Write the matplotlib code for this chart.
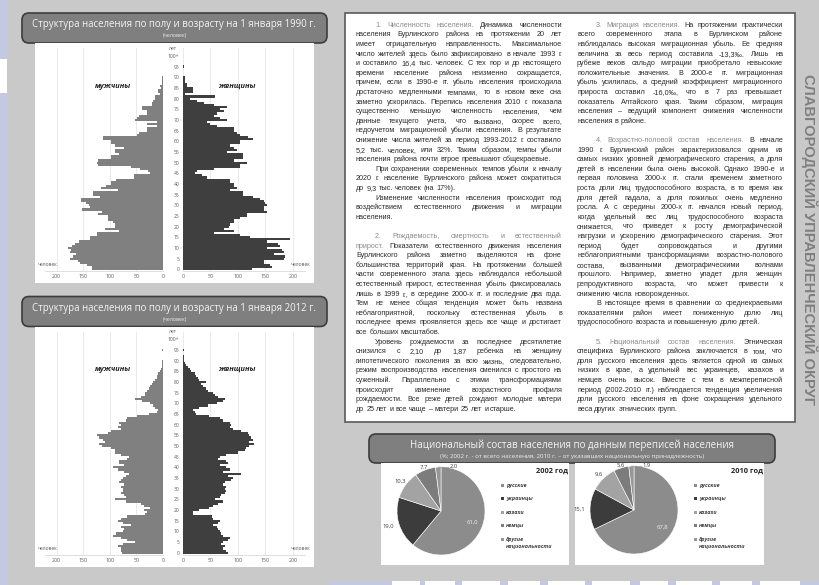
import numpy as np
import matplotlib
matplotlib.use("Agg")
import matplotlib.pyplot as plt
from matplotlib.patches import FancyBboxPatch, Rectangle

plt.rcParams['font.family'] = ['Open Sans', 'DejaVu Sans']
BODY_FONT = ['Liberation Sans', 'DejaVu Sans']

W, H = 819, 585

# --- data -------------------------------------------------------------
ages = np.arange(0, 101)
age_ticks = list(range(0, 101, 5))
age_labels = [str(a) for a in range(0, 100, 5)] + ['100+']
value_ticks = [0, 50, 100, 150, 200]

male_1990 = [134, 134, 143, 157, 160, 175, 170, 163, 175, 174,
             178, 172, 165, 158, 137, 137, 125, 125, 82, 110,
             91, 91, 95, 104, 104, 104, 122, 115, 152, 137,
             140, 145, 155, 155, 119, 131, 131, 85, 116, 107,
             98, 98, 88, 55, 55, 25, 28, 43, 61, 122,
             125, 122, 98, 98, 82, 91, 91, 73, 91, 98,
             98, 113, 113, 49, 45, 30, 30, 12, 30, 12,
             52, 49, 45, 30, 30, 40, 40, 21, 21, 18,
             15, 15, 6, 9, 9, 3, 5, 2, 1, 1,
             1, 0, 0, 0, 0, 0, 0, 0, 0, 0,
             0]
female_1990 = [125, 162, 159, 147, 147, 183, 186, 165, 183, 180,
               153, 177, 172, 153, 195, 122, 104, 56, 92, 74,
               83, 86, 92, 92, 104, 116, 116, 153, 147, 147,
               153, 150, 147, 141, 128, 110, 110, 86, 98, 92,
               92, 86, 86, 44, 35, 22, 25, 56, 104, 104,
               116, 92, 110, 110, 110, 80, 98, 92, 86, 104,
               104, 128, 119, 104, 98, 92, 92, 62, 50, 44,
               80, 68, 56, 62, 74, 68, 80, 56, 38, 25,
               13, 58, 4, 19, 19, 19, 7, 7, 4, 4,
               4, 0, 0, 0, 0, 2, 0, 0, 0, 0,
               0]
male_2012 = [77, 79, 79, 85, 76, 52, 67, 79, 94, 88,
             76, 73, 79, 61, 76, 85, 79, 67, 33, 30,
             36, 24, 36, 42, 70, 91, 70, 73, 79, 76,
             76, 79, 73, 82, 79, 76, 70, 64, 73, 85,
             94, 73, 82, 82, 67, 64, 79, 91, 91, 97,
             115, 121, 109, 112, 121, 125, 103, 97, 79, 85,
             79, 82, 70, 67, 48, 27, 12, 9, 15, 18,
             24, 39, 52, 42, 33, 33, 30, 27, 24, 21,
             18, 15, 12, 11, 9, 6, 3, 1, 1, 1,
             1, 0, 0, 0, 0, 1, 0, 0, 0, 0,
             0]
female_2012 = [82, 79, 73, 76, 70, 73, 82, 85, 73, 70,
               67, 64, 61, 55, 64, 67, 55, 52, 18, 18,
               30, 48, 55, 64, 73, 58, 67, 70, 76, 79,
               76, 79, 73, 76, 88, 91, 82, 106, 73, 85,
               79, 67, 82, 79, 64, 67, 79, 100, 112, 115,
               121, 130, 121, 127, 124, 121, 118, 106, 91, 85,
               88, 85, 73, 67, 48, 24, 21, 18, 30, 45,
               61, 73, 76, 64, 58, 55, 45, 42, 36, 33,
               42, 30, 27, 24, 21, 15, 12, 9, 6, 3,
               2, 1, 1, 0, 0, 1, 0, 0, 0, 0,
               0]

nations = ['русские', 'украинцы', 'казахи', 'немцы', 'другие\nнациональности']
shares_2002 = [61.0, 19.0, 10.3, 7.7, 2.0]
shares_2010 = [67.8, 15.1, 9.6, 5.6, 1.9]
nation_colors = ['#8c8c8c', '#3c3c3c', '#a3a3a3', '#7c7c7c', '#969696']

# text of the two columns: '>' indent, '¶' paragraph end, {..} heading
left_col = [
    ">{1. Численность населения.} Динамика численности",
    "населения Бурлинского района на протяжении 20 лет",
    "имеет отрицательную направленность. Максимальное",
    "число жителей здесь было зафиксировано в начале 1993 г.",
    "и составило 16,4 тыс. человек. С тех пор и до настоящего",
    "времени население района неизменно сокращается,",
    "причем, если в 1990-е гг. убыль населения происходила",
    "достаточно медленными темпами, то в новом веке она",
    "заметно ускорилась. Перепись населения 2010 г. показала",
    "существенно меньшую численность населения, чем",
    "данные текущего учета, что вызвано, скорее всего,",
    "недоучетом миграционной убыли населения. В результате",
    "снижение числа жителей за период 1993-2012 г. составило",
    "5,2 тыс. человек, или 32%. Таким образом, темпы убыли",
    "населения района почти втрое превышают общекраевые.¶",
    ">При сохранении современных темпов убыли к началу",
    "2020 г. население Бурлинского района может сократиться",
    "до 9,3 тыс. человек (на 17%).¶",
    ">Изменение численности населения происходит под",
    "воздействием естественного движения и миграции",
    "населения.¶",
    "",
    ">{2. Рождаемость, смертность и естественный}",
    "{прирост.} Показатели естественного движения населения",
    "Бурлинского района заметно выделяются на фоне",
    "большинства территорий края. На протяжении большей",
    "части современного этапа здесь наблюдался небольшой",
    "естественный прирост, естественная убыль фиксировалась",
    "лишь в 1999 г., в середине 2000-х гг. и последние два года.",
    "Тем не менее общая тенденция может быть названа",
    "неблагоприятной, поскольку естественная убыль в",
    "последнее время проявляется здесь все чаще и достигает",
    "все больших масштабов.¶",
    ">Уровень рождаемости за последнее десятилетие",
    "снизился с 2,10 до 1,87 ребенка на женщину",
    "гипотетического поколения за всю жизнь, следовательно,",
    "режим воспроизводства населения сменился с простого на",
    "суженный. Параллельно с этими трансформациями",
    "происходит изменение возрастного профиля",
    "рождаемости. Все реже детей рождают молодые матери",
    "до 25 лет и все чаще – матери 25 лет и старше.¶",
]
right_col = [
    ">{3. Миграция населения.} На протяжении практически",
    "всего современного этапа в Бурлинском районе",
    "наблюдалась высокая миграционная убыль. Ее средняя",
    "величина за весь период составила -13,3‰. Лишь на",
    "рубеже веков сальдо миграции приобретало невысокие",
    "положительные значения. В 2000-е гг. миграционная",
    "убыль усилилась, а средний коэффициент миграционного",
    "прироста составил -16,0‰, что в 7 раз превышает",
    "показатель Алтайского края. Таким образом, миграция",
    "населения – ведущий компонент снижения численности",
    "населения в районе.¶",
    "",
    ">{4. Возрастно-половой состав населения.} В начале",
    "1990 г. Бурлинский район характеризовался одним из",
    "самых низких уровней демографического старения, а доля",
    "детей в населении была очень высокой. Однако 1990-е и",
    "первая половина 2000-х гг. стали временем заметного",
    "роста доли лиц трудоспособного возраста, в то время как",
    "доля детей падала, а доля пожилых очень медленно",
    "росла. А с середины 2000-х гг. начался новый период,",
    "когда удельный вес лиц трудоспособного возраста",
    "снижается, что приведет к росту демографической",
    "нагрузки и ускорению демографического старения. Этот",
    "период будет сопровождаться и другими",
    "неблагоприятными трансформациями возрастно-полового",
    "состава, вызванными демографическими волнами",
    "прошлого. Например, заметно упадет доля женщин",
    "репродуктивного возраста, что может привести к",
    "снижению числа новорожденных.¶",
    ">В настоящее время в сравнении со среднекраевыми",
    "показателями район имеет пониженную долю лиц",
    "трудоспособного возраста и повышенную долю детей.¶",
    "",
    ">{5. Национальный состав населения.} Этническая",
    "специфика Бурлинского района заключается в том, что",
    "доля русского населения здесь является одной из самых",
    "низких в крае, а удельный вес украинцев, казахов и",
    "немцев очень высок. Вместе с тем в межпереписной",
    "период (2002-2010 гг.) наблюдается тенденция увеличения",
    "доли русского населения на фоне сокращения удельного",
    "веса других этнических групп.¶",
]

BODY = '#2b2b2b'
HEAD = '#8a8a8a'
LAVENDER = '#c4c9e2'

fig = plt.figure(figsize=(W / 100, H / 100), dpi=100)
fig.patch.set_facecolor('#c9c9c9')
renderer = fig.canvas.get_renderer()


def px_axes(x0, y0, x1, y1, z=1):
    ax = fig.add_axes([x0 / W, 1 - y1 / H, (x1 - x0) / W, (y1 - y0) / H])
    ax.set_zorder(z)
    return ax


bg = px_axes(0, 0, W, H, z=0)
bg.set_xlim(0, W)
bg.set_ylim(H, 0)
bg.axis('off')
top = px_axes(0, 0, W, H, z=5)
top.set_xlim(0, W)
top.set_ylim(H, 0)
top.axis('off')


def fit_text(x, y, s, width, rot=0, **kw):
    t = top.text(x, y, s, fontsize=10, rotation=rot, **kw)
    bb = t.get_window_extent(renderer)
    size = bb.height if rot else bb.width
    t.set_fontsize(10 * width / size)
    return t


def title_box(x0, y0, x1, y1):
    bg.add_patch(FancyBboxPatch((x0, y0), x1 - x0, y1 - y0,
                                boxstyle='round,pad=0,rounding_size=7',
                                fc='#7f7f7f', ec='#3c3c3c', lw=1.2))


# --- page decoration ---------------------------------------------------
bg.add_patch(Rectangle((0, 0), 7, H, fc=LAVENDER, ec='none'))
bg.add_patch(Rectangle((0, 59), 7, 34, fc='white', ec='none'))
bg.add_patch(Rectangle((330, 581), W - 330, 4, fc=LAVENDER, ec='none'))
for xs, xe in [(392, 420), (425, 455), (462, 500), (508, 540), (548, 585),
               (592, 630), (640, 668), (676, 712), (720, 752), (760, 800)]:
    bg.add_patch(Rectangle((xs, 581), xe - xs, 4, fc='white', ec='none'))


# --- pyramids ------------------------------------------------------------
def draw_pyramid(dy, year, male, female):
    title_box(22, 13 + dy, 327, 43 + dy)
    bg.add_patch(Rectangle((35, 43 + dy), 279, 240, fc='white', ec='none'))
    fit_text(174.5, 25 + dy, f'Структура населения по полу и возрасту на 1 января {year} г.',
             284, ha='center', va='center', color='#f4f4f4')
    top.text(174.5, 35.5 + dy, '(человек)', fontsize=3.8, ha='center', va='center', color='#f0f0f0')

    axm = px_axes(45, 48 + dy, 163, 271.4 + dy)
    axf = px_axes(183, 48 + dy, 305, 271.4 + dy)
    for ax, vals, col in ((axm, male, '#808080'), (axf, female, '#3f3f3f')):
        ax.barh(ages, vals, height=1.0, color=col, lw=0, zorder=2)
        ax.set_ylim(-1, 103.7)
        ax.set_facecolor('none')
        ax.set_xticks(value_ticks)
        ax.tick_params(axis='x', length=0, pad=2, labelsize=3.8, labelcolor='#595959')
        ax.grid(axis='x', color='#e6e6e6', lw=0.6, zorder=0)
        for sp in ('top', 'left', 'right'):
            ax.spines[sp].set_visible(False)
        ax.spines['bottom'].set_color('#d9d9d9')
        ax.spines['bottom'].set_linewidth(0.6)
    axm.set_xlim(222, 0)
    axf.set_xlim(0, 222)
    axm.set_yticks([])
    axf.set_yticks(age_ticks, labels=age_labels)
    axf.tick_params(axis='y', length=0, pad=2.5, labelsize=3.6, labelcolor='#595959')

    top.text(173, 48 + dy, 'лет', fontsize=3.6, ha='center', va='center', color='#595959')
    top.text(113, 86 + dy, 'мужчины', fontsize=5.3, fontweight='bold', fontstyle='italic',
             ha='center', va='center', color='#222222')
    top.text(237, 86 + dy, 'женщины', fontsize=5.3, fontweight='bold', fontstyle='italic',
             ha='center', va='center', color='#222222')
    top.text(38, 265 + dy, 'человек', fontsize=3.6, ha='left', va='center', color='#595959')
    top.text(310, 265 + dy, 'человек', fontsize=3.6, ha='right', va='center', color='#595959')


draw_pyramid(0, 1990, male_1990, female_1990)
draw_pyramid(283.5, 2012, male_2012, female_2012)

# --- text block ------------------------------------------------------------
bg.add_patch(Rectangle((345, 13), 450, 409, fc='white', ec='#5a5a5a', lw=1.2))

COL_W = 206
INDENT = 19
LINE = 9.6


def parse_words(s):
    out = []
    gray = False
    for w in s.split():
        if w.startswith('{'):
            gray = True
            w = w[1:]
        end = w.endswith('}')
        if end:
            w = w[:-1]
        out.append((w, HEAD if gray else BODY))
        if end:
            gray = False
    return out


def clean(raw):
    return raw.lstrip('>').rstrip('¶').replace('{', '').replace('}', '')


def width_of(s, fs):
    t = top.text(0, 0, s, fontsize=fs, family=BODY_FONT)
    w = t.get_window_extent(renderer).width
    t.remove()
    return w


fs0 = 5.5
widest = max(width_of(clean(r), fs0) + (INDENT if r.startswith('>') else 0)
             for r in left_col + right_col if r)
fs = min(6.5, max(4.5, fs0 * (COL_W - 2) / widest))
space = width_of('a a', fs) - width_of('aa', fs)


def draw_column(lines, x0, y0):
    for i, raw in enumerate(lines):
        if not raw:
            continue
        indent = INDENT if raw.startswith('>') else 0
        last = raw.endswith('¶')
        words = parse_words(raw.lstrip('>').rstrip('¶'))
        y = y0 + i * LINE + 2.6
        texts, widths = [], []
        for w, c in words:
            t = top.text(0, y, w, fontsize=fs, color=c, va='baseline', ha='left',
                         family=BODY_FONT)
            texts.append(t)
            widths.append(t.get_window_extent(renderer).width)
        free = COL_W - indent - sum(widths)
        gap = space if (last or len(words) < 2) else free / (len(words) - 1)
        x = x0 + indent
        for t, w in zip(texts, widths):
            t.set_x(x)
            x += w + gap


draw_column(left_col, 356, 24.3)
draw_column(right_col, 577, 24.3)

fit_text(809, 240, 'СЛАВГОРОДСКИЙ УПРАВЛЕНЧЕСКИЙ ОКРУГ', 330, rot=270,
         ha='center', va='center', color='#7f7f7f', fontweight='bold',
         family=['Liberation Sans Narrow', 'Liberation Sans', 'DejaVu Sans'])

# --- pies ------------------------------------------------------------------
title_box(369, 434, 775, 463)
fit_text(572, 445, 'Национальный состав населения по данным переписей населения', 320,
         ha='center', va='center', color='#f4f4f4')
fit_text(572, 456.5, '(%; 2002 г. - от всего населения, 2010 г. – от указавших национальную принадлежность)',
         264, ha='center', va='center', color='#f0f0f0')


def draw_pie(panel_x0, panel_x1, cx, cy, r, shares, year):
    bg.add_patch(Rectangle((panel_x0, 463), panel_x1 - panel_x0, 102, fc='white', ec='none'))
    ax = px_axes(cx - r, cy - r, cx + r, cy + r)
    ax.pie(shares, colors=nation_colors, startangle=90, counterclock=False, radius=1,
           wedgeprops=dict(ec='white', lw=0.4))
    ax.set_xlim(-1, 1)
    ax.set_ylim(-1, 1)
    ax.axis('off')

    cum = np.cumsum([0] + shares[:-1])
    for k, (start, v) in enumerate(zip(cum, shares)):
        mid = np.deg2rad(90 - (start + v / 2) * 3.6)
        lab = f'{v:.1f}'.replace('.', ',')
        if k == 0:
            ax.text(0.75 * np.cos(mid), 0.75 * np.sin(mid), lab, fontsize=4.2,
                    ha='center', va='center', color='#f0f0f0')
        elif k == len(shares) - 1:
            ex, ey = np.cos(mid), np.sin(mid)
            ax.plot([ex, 0.18], [ey, 0.99], color='#7f7f7f', lw=0.4, clip_on=False)
            ax.text(0.2, 1.02, lab, fontsize=4.2, ha='left', va='center', color='#404040')
        else:
            rr = {1: 1.25, 2: 1.15}.get(k, 1.06)
            ax.text(rr * np.cos(mid), rr * np.sin(mid), lab, fontsize=4.2,
                    ha='center', va='center', color='#404040')

    top.text(panel_x1 - 1, 471, f'{year} год', fontsize=5.3, fontweight='bold',
             ha='right', va='center', color='#222222')
    lx = cx + 61
    for k, (name, col) in enumerate(zip(nations, nation_colors)):
        y = 485 + k * 13.5
        top.add_patch(Rectangle((lx - 1.5, y - 1.5), 3, 3, fc=col, ec='none'))
        two = '\n' in name
        top.text(lx + 4, y - 2.5 if two else y, name, fontsize=3.9, fontstyle='italic',
                 fontweight='bold', ha='left', va='top' if two else 'center',
                 color='#404040', linespacing=1.5)


draw_pie(381, 569, 441, 511, 44, shares_2002, 2002)
draw_pie(575, 764, 634, 510, 44, shares_2010, 2010)

fig.savefig('out.png', dpi=100, facecolor=fig.get_facecolor())
